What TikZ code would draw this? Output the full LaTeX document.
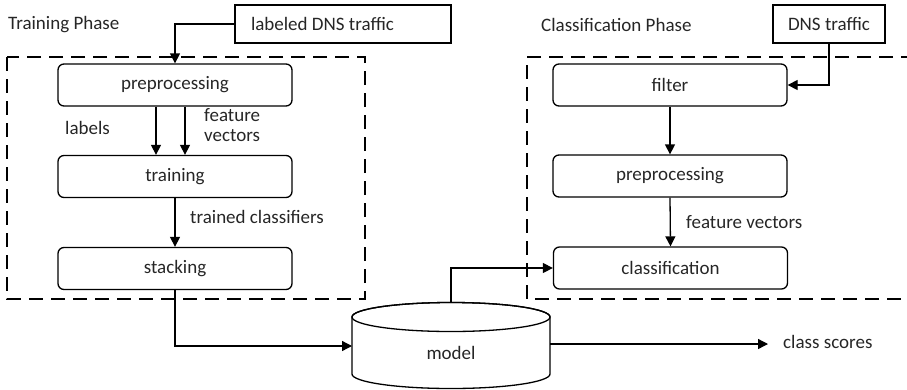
\documentclass[tikz,border=0pt]{standalone}
\usepackage{fontspec}
\setmainfont{Carlito}
\usetikzlibrary{arrows.meta}
\begin{document}
\begin{tikzpicture}[x=1pt,y=1pt,
  every node/.style={font=\fontsize{19}{21}\selectfont, text=black!85},
  proc/.style={draw, line width=1.3pt, rounded corners=6pt, minimum width=234pt, minimum height=42pt, inner sep=0pt},
  src/.style={draw, line width=1.1pt, minimum height=38pt, inner sep=0pt},
  lbl/.style={anchor=west, inner sep=0pt, align=left},
  arr/.style={line width=1.3pt, -{Triangle[length=10pt,width=10pt]}},
  phase/.style={line width=1.3pt, dash pattern=on 14pt off 8pt}]
\useasboundingbox (0,0) rectangle (907,-389);
% phase boxes
\draw[phase] (7,-57) rectangle (365,-299);
\draw[phase] (915,-57) -- (527,-57) -- (527,-299) -- (915,-299);
% titles
\node[lbl] (tp) at (8,-25) {Training Phase};
\node[lbl] (cp) at (541,-25) {Classification Phase};
% sources
\node[src, minimum width=216pt] (lab) at (343,-24) {\makebox[184pt][l]{labeled DNS traffic}};
\node[src, minimum width=112pt] (dns) at (829,-24) {DNS traffic};
% training
\node[proc] (pre) at (175,-85) {preprocessing};
\node[proc] (train) at (175,-176.5) {training};
\node[proc] (stack) at (175,-268.5) {stacking};
% classification
\node[proc] (filt) at (670,-85) {filter};
\node[proc] (pre2) at (670,-176) {preprocessing};
\node[proc] (cls) at (670.5,-268) {classification};
% labels
\node[lbl] (labels) at (65,-128) {labels};
\node[lbl] (fv1) at (204,-125) {feature\\[-1pt]vectors};
\node[lbl] (tc) at (190,-217) {trained classifiers};
\node[lbl] (fv2) at (686,-222) {feature vectors};
\node[lbl] (cs) at (783,-342) {class scores};
% model cylinder
\draw[line width=1.3pt, fill=white] (352,-317) -- (352,-374) arc[start angle=180, end angle=360, x radius=99, y radius=14.5] -- (550,-317) arc[start angle=0, end angle=180, x radius=99, y radius=14.5] -- cycle;
\draw[line width=1.3pt] (451,-317) ellipse[x radius=99, y radius=14.5];
\node (model) at (451,-353) {model};
\coordinate (mL) at (352,-346);
\coordinate (mT) at (451,-302.5);
\coordinate (mR) at (550,-344);
% connectors
\draw[arr] (lab.west) -| (pre.north);
\draw[arr] ([xshift=-19pt]pre.south) -- ([xshift=-19pt]train.north);
\draw[arr] ([xshift=10pt]pre.south) -- ([xshift=10pt]train.north);
\draw[arr] (train.south) -- (stack.north);
\draw[arr] (stack.south) |- (mL);
\draw[arr] (dns.south) |- (filt.east);
\draw[arr] (filt.south) -- (pre2.north);
\draw[arr] (pre2.south) -- (cls.north);
\draw[arr] (mT) |- (cls.west);
\draw[arr] (mR) -- ([xshift=-15pt]cs.west |- mR);
\end{tikzpicture}
\end{document}
